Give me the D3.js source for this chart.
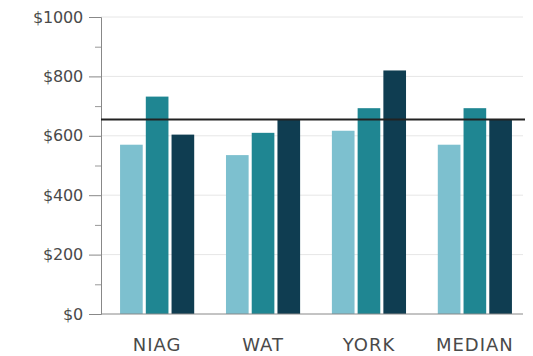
<!DOCTYPE html>
<html>
<head>
<meta charset="utf-8">
<script src="https://cdn.jsdelivr.net/npm/d3@7"></script>
<style>
  body { margin: 0; background: #fff; }
  text { font-family: "DejaVu Sans", sans-serif; fill: #4a4a4a; }
</style>
</head>
<body>
<div id="chart"></div>
<script>
// chart data
const regions = ["NIAG", "WAT", "YORK", "MEDIAN"];
const seriesNames = ["s1", "s2", "s3"];
const s1 = [570, 535, 617, 570];
const s2 = [732, 610, 693, 693];
const s3 = [604, 655, 820, 655];
const refValue = 655;
const yTicks = [0, 200, 400, 600, 800, 1000];
const yMinorTicks = [100, 300, 500, 700, 900];
const colors = ["#7dc0cf", "#1f8692", "#0f3d51"];

const width = 533, height = 356;
const plotLeft = 101, plotRight = 523, plotTop = 17, plotBottom = 314;

const svg = d3.select("#chart").append("svg")
    .attr("width", width)
    .attr("height", height);

const y = d3.scaleLinear().domain([0, 1000]).range([plotBottom, plotTop]);

const x0 = d3.scaleBand()
    .domain(regions)
    .range([plotLeft, 531])
    .paddingInner(0.3)
    .paddingOuter(0.18);

const x1 = d3.scaleBand()
    .domain(seriesNames)
    .range([0, x0.bandwidth()])
    .paddingInner(0.12);

// gridlines
svg.append("g")
   .selectAll("line")
   .data(yTicks.filter(d => d > 0))
   .enter()
   .append("line")
   .attr("x1", plotLeft)
   .attr("x2", plotRight)
   .attr("y1", d => y(d))
   .attr("y2", d => y(d))
   .attr("stroke", "#e6e6e6");

// bars
const rows = regions.map((r, i) => ({ region: r, vals: [s1[i], s2[i], s3[i]] }));

svg.append("g")
   .selectAll("g")
   .data(rows)
   .enter()
   .append("g")
   .attr("transform", d => `translate(${x0(d.region)},0)`)
   .selectAll("rect")
   .data(d => d.vals.map((v, j) => ({ key: seriesNames[j], v: v, j: j })))
   .enter()
   .append("rect")
   .attr("x", d => x1(d.key))
   .attr("y", d => y(d.v))
   .attr("width", x1.bandwidth())
   .attr("height", d => y(0) - y(d.v))
   .attr("fill", d => colors[d.j]);

// baseline
svg.append("line")
   .attr("x1", plotLeft)
   .attr("x2", plotRight)
   .attr("y1", y(0))
   .attr("y2", y(0))
   .attr("stroke", "#888");

// y axis
const yAxis = svg.append("g")
   .attr("transform", `translate(${plotLeft},0)`)
   .call(d3.axisLeft(y)
      .tickValues(yTicks)
      .tickSize(12)
      .tickPadding(6)
      .tickFormat(d => "$" + d));

yAxis.select(".domain").attr("stroke", "#888");
yAxis.selectAll(".tick line").attr("stroke", "#888");
yAxis.selectAll("text")
   .style("font-size", "16px")
   .style("letter-spacing", "-0.2px")
   .attr("fill", "#4a4a4a");

svg.append("g")
   .attr("transform", `translate(${plotLeft},0)`)
   .call(d3.axisLeft(y).tickValues(yMinorTicks).tickSize(6).tickFormat(""))
   .call(g => g.select(".domain").remove())
   .selectAll(".tick line").attr("stroke", "#999");

// x labels
svg.append("g")
   .selectAll("text")
   .data(regions)
   .enter()
   .append("text")
   .attr("x", d => x0(d) + x0.bandwidth() / 2)
   .attr("y", 351)
   .attr("text-anchor", "middle")
   .style("font-size", "18px")
   .style("letter-spacing", "1px")
   .text(d => d);

// reference line
svg.append("line")
   .attr("x1", plotLeft)
   .attr("x2", 525)
   .attr("y1", y(refValue))
   .attr("y2", y(refValue))
   .attr("stroke", "#222")
   .attr("stroke-width", 2);
</script>
</body>
</html>
